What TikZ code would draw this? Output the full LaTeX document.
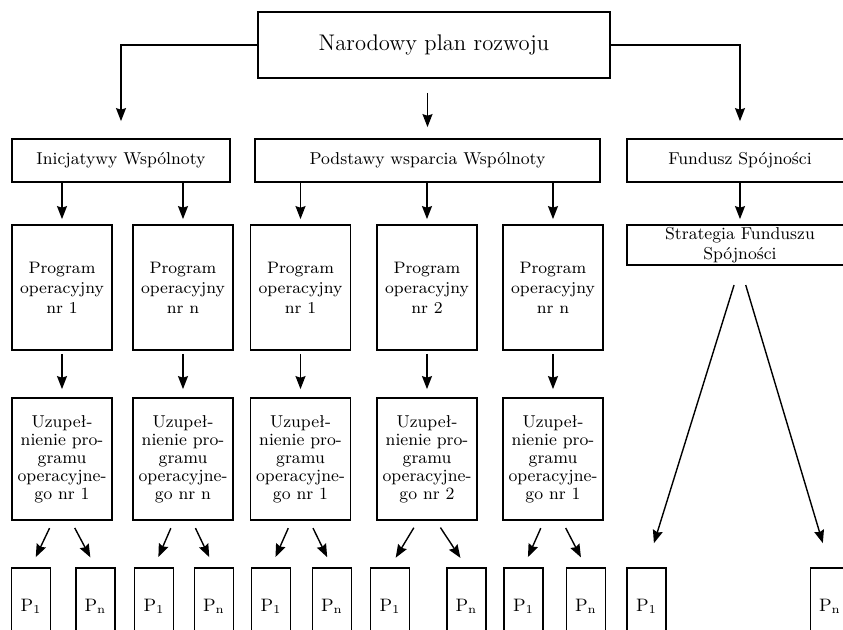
\documentclass[tikz,border=0pt]{standalone}
\usepackage{fontspec}
\usepackage{tikz}
\usetikzlibrary{positioning,arrows.meta}

\begin{document}
\begin{tikzpicture}[
  x=0.5pt, y=-0.5pt,
  box/.style={draw, line width=0.9pt, align=center, inner sep=0pt},
  arr/.style={line width=0.7pt, -{Stealth[length=6.5pt,width=5pt,inset=0.8pt]}},
  toptext/.style={font=\fontsize{11.3}{13}\selectfont},
  headtext/.style={font=\fontsize{8.6}{10}\selectfont},
  progtext/.style={font=\fontsize{8.3}{10}\selectfont},
  suptext/.style={font=\fontsize{8.6}{9}\selectfont},
  ptext/.style={font=\fontsize{9}{10}\selectfont}
]
\useasboundingbox (0,0) rectangle (843,630);
\clip (0,0) rectangle (843,630);

% level 0
\node[box,toptext,minimum width=176pt,minimum height=33pt] (npr) at (434,45) {Narodowy plan rozwoju};

% level 1
\node[box,headtext,minimum width=109pt,minimum height=21.5pt] (ini) at (121,160.5) {Inicjatywy Wspólnoty};
\node[box,headtext,minimum width=172.5pt,minimum height=21.5pt] (pod) at (427.5,160.5) {Podstawy wsparcia Wspólnoty};
\node[box,headtext,minimum width=113pt,minimum height=21.5pt] (fun) at (740,160.5) {Fundusz Spójności};

% level 2
\node[box,progtext,minimum width=50pt,minimum height=62.5pt] (p1) at (62,287.5) {Program\\operacyjny\\nr 1};
\node[box,progtext,minimum width=50pt,minimum height=62.5pt] (p2) at (183,287.5) {Program\\operacyjny\\nr n};
\node[box,progtext,minimum width=50pt,minimum height=62.5pt] (p3) at (300.5,287.5) {Program\\operacyjny\\nr 1};
\node[box,progtext,minimum width=50pt,minimum height=62.5pt] (p4) at (427,287.5) {Program\\operacyjny\\nr 2};
\node[box,progtext,minimum width=50pt,minimum height=62.5pt] (p5) at (553,287.5) {Program\\operacyjny\\nr n};
\node[box,headtext,minimum width=113pt,minimum height=20pt] (str) at (740,245) {Strategia Funduszu\\Spójności};

% level 3
\node[box,suptext,minimum width=50pt,minimum height=61pt] (u1) at (62,459) {Uzupeł-\\nienie pro-\\gramu\\operacyjne-\\go nr 1};
\node[box,suptext,minimum width=50pt,minimum height=61pt] (u2) at (183,459) {Uzupeł-\\nienie pro-\\gramu\\operacyjne-\\go nr n};
\node[box,suptext,minimum width=50pt,minimum height=61pt] (u3) at (300.5,459) {Uzupeł-\\nienie pro-\\gramu\\operacyjne-\\go nr 1};
\node[box,suptext,minimum width=50pt,minimum height=61pt] (u4) at (427,459) {Uzupeł-\\nienie pro-\\gramu\\operacyjne-\\go nr 2};
\node[box,suptext,minimum width=50pt,minimum height=61pt] (u5) at (553,459) {Uzupeł-\\nienie pro-\\gramu\\operacyjne-\\go nr 1};

% level 4 (projects)
\node[box,ptext,minimum width=19.5pt,minimum height=38.5pt] (a1) at (31,606.5) {$\mathrm{P}_1$};
\node[box,ptext,minimum width=19.5pt,minimum height=38.5pt] (b1) at (95.5,606.5) {$\mathrm{P}_\mathrm{n}$};
\node[box,ptext,minimum width=19.5pt,minimum height=38.5pt] (a2) at (154,606.5) {$\mathrm{P}_1$};
\node[box,ptext,minimum width=19.5pt,minimum height=38.5pt] (b2) at (214,606.5) {$\mathrm{P}_\mathrm{n}$};
\node[box,ptext,minimum width=19.5pt,minimum height=38.5pt] (a3) at (271,606.5) {$\mathrm{P}_1$};
\node[box,ptext,minimum width=19.5pt,minimum height=38.5pt] (b3) at (332,606.5) {$\mathrm{P}_\mathrm{n}$};
\node[box,ptext,minimum width=19.5pt,minimum height=38.5pt] (a4) at (390,606.5) {$\mathrm{P}_1$};
\node[box,ptext,minimum width=19.5pt,minimum height=38.5pt] (b4) at (466.5,606.5) {$\mathrm{P}_\mathrm{n}$};
\node[box,ptext,minimum width=19.5pt,minimum height=38.5pt] (a5) at (523.5,606.5) {$\mathrm{P}_1$};
\node[box,ptext,minimum width=19.5pt,minimum height=38.5pt] (b5) at (586,606.5) {$\mathrm{P}_\mathrm{n}$};
\node[box,ptext,minimum width=19.5pt,minimum height=38.5pt] (a6) at (646.5,606.5) {$\mathrm{P}_1$};
\node[box,ptext,minimum width=19.5pt,minimum height=38.5pt] (b6) at (830,606.5) {$\mathrm{P}_\mathrm{n}$};

% arrows from the plan
\draw[arr,shorten >=8.5pt] (npr.west) -| (ini.north);
\draw[arr,shorten >=8.5pt] (npr.east) -| (fun.north);
\draw[arr,shorten <=7pt,shorten >=5.5pt] (npr.south -| pod.north) -- (pod.north);

% arrows to programs
\draw[arr,shorten >=2.5pt] (ini.south -| p1.north) -- (p1.north);
\draw[arr,shorten >=2.5pt] (ini.south -| p2.north) -- (p2.north);
\draw[arr,shorten >=2.5pt] (pod.south -| p3.north) -- (p3.north);
\draw[arr,shorten >=2.5pt] (pod.south -| p4.north) -- (p4.north);
\draw[arr,shorten >=2.5pt] (pod.south -| p5.north) -- (p5.north);
\draw[arr,shorten >=2.5pt] (fun.south -| str.north) -- (str.north);

% arrows to complements
\draw[arr,shorten <=1.5pt,shorten >=4pt] (p1.south) -- (u1.north);
\draw[arr,shorten <=1.5pt,shorten >=4pt] (p2.south) -- (u2.north);
\draw[arr,shorten <=1.5pt,shorten >=4pt] (p3.south) -- (u3.north);
\draw[arr,shorten <=1.5pt,shorten >=4pt] (p4.south) -- (u4.north);
\draw[arr,shorten <=1.5pt,shorten >=4pt] (p5.south) -- (u5.north);

% arrows to projects
\draw[arr,shorten <=4pt,shorten >=5.5pt] ([xshift=-4.5pt]u1.south) -- (a1.north);
\draw[arr,shorten <=4pt,shorten >=5.5pt] ([xshift=4.5pt]u1.south) -- (b1.north);
\draw[arr,shorten <=4pt,shorten >=5.5pt] ([xshift=-4.5pt]u2.south) -- (a2.north);
\draw[arr,shorten <=4pt,shorten >=5.5pt] ([xshift=4.5pt]u2.south) -- (b2.north);
\draw[arr,shorten <=4pt,shorten >=5.5pt] ([xshift=-4.5pt]u3.south) -- (a3.north);
\draw[arr,shorten <=4pt,shorten >=5.5pt] ([xshift=4.5pt]u3.south) -- (b3.north);
\draw[arr,shorten <=4pt,shorten >=5.5pt] ([xshift=-4.5pt]u4.south) -- (a4.north);
\draw[arr,shorten <=4pt,shorten >=5.5pt] ([xshift=4.5pt]u4.south) -- (b4.north);
\draw[arr,shorten <=4pt,shorten >=5.5pt] ([xshift=-4.5pt]u5.south) -- (a5.north);
\draw[arr,shorten <=4pt,shorten >=5.5pt] ([xshift=4.5pt]u5.south) -- (b5.north);
\draw[arr,shorten <=10pt,shorten >=12.5pt] (str.south) -- (a6.north);
\draw[arr,shorten <=10pt,shorten >=12.5pt] (str.south) -- (b6.north);
\end{tikzpicture}
\end{document}
